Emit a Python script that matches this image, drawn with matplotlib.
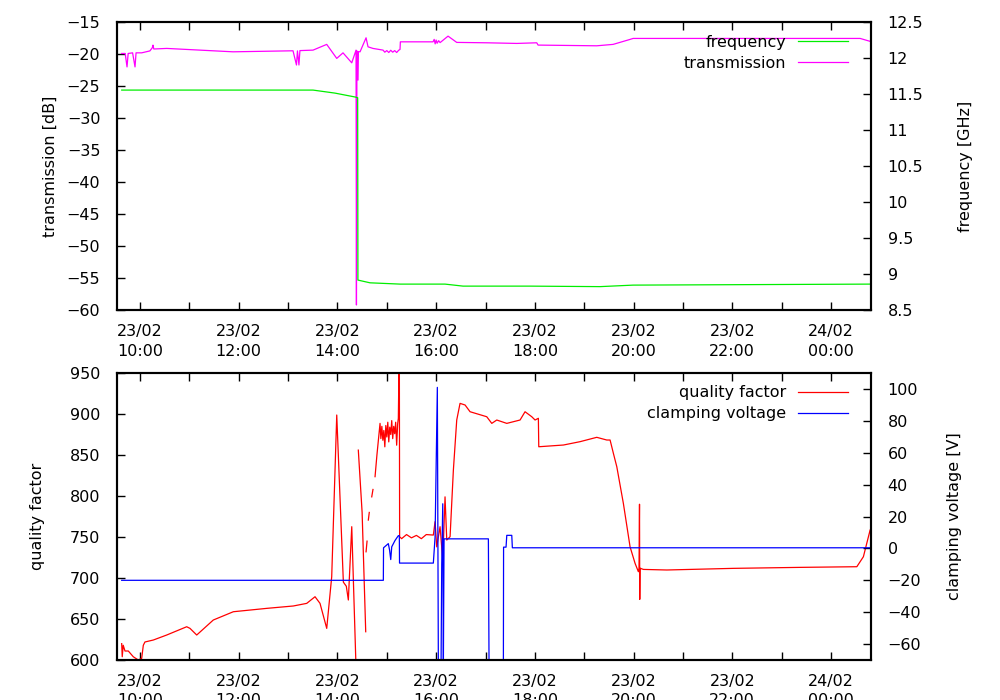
import numpy as np
import matplotlib
matplotlib.use("Agg")
import matplotlib.pyplot as plt

plt.rcParams['font.family'] = ['DejaVu Sans']
plt.rcParams['font.size'] = 11.5

# ---------------- data (time in hours since 23/02 00:00) ----------------
freq_t = [9.63, 13.505, 13.95, 14.357, 14.41, 14.415, 14.66, 15.27, 16.18, 16.545, 17.9, 19.32, 19.99, 24.79]
freq_v = [11.556, 11.556, 11.514, 11.46, 11.45, 8.917, 8.879, 8.861, 8.861, 8.833, 8.833, 8.826, 8.847, 8.861]

trans_t = [9.629, 9.70, 9.737, 9.76, 9.85, 9.899, 9.92, 10.034, 10.20, 10.25, 10.263, 10.28,
           10.541, 11.884, 13.10, 13.17, 13.19, 13.22, 13.24, 13.506, 13.783, 13.986, 14.113,
           14.29, 14.377, 14.385, 14.395, 14.417, 14.425, 14.458, 14.58, 14.62, 14.72, 14.924,
           14.96, 15.0, 15.04, 15.08, 15.12, 15.16, 15.20, 15.24, 15.268, 15.275, 15.937,
           15.96, 15.98, 16.0, 16.02, 16.05, 16.08, 16.241, 16.417, 17.025, 17.633, 18.038,
           18.065, 19.254, 19.585, 19.929, 19.99, 24.59, 24.79]
trans_v = [-19.9, -19.9, -22.0, -19.9, -19.8, -22.0, -19.8, -19.8, -19.5, -19.0, -18.6, -19.2,
           -19.11, -19.64, -19.48, -21.7, -19.5, -21.7, -19.45, -19.375, -18.48, -20.67, -19.8,
           -21.36, -19.375, -59.2, -19.5, -24.06, -19.6, -19.64, -17.45, -18.86, -19.11, -19.375,
           -19.7, -19.45, -19.75, -19.4, -19.7, -19.45, -19.75, -19.4, -19.27, -18.08, -18.08,
           -17.7, -18.4, -17.8, -18.3, -17.9, -18.2, -17.19, -18.17, -18.23, -18.33, -18.23,
           -18.59, -18.70, -18.48, -17.70, -17.55, -17.55, -18.0]

qual_t = [9.629, 9.64, 9.66, 9.696, 9.763, 9.864, 9.966, 10.034, 10.067, 10.10, 10.27, 10.541,
          10.946, 11.013, 11.149, 11.485, 11.891, 12.567, 13.106, 13.378, 13.546, 13.647,
          13.783, 13.884, 13.986, 14.12, 14.18, 14.221, 14.29, 14.377, np.nan,
          14.423, 14.50, 14.573, np.nan, 14.58, 14.60, np.nan, 14.626, 14.645, np.nan,
          14.695, 14.72, np.nan, 14.762, 14.80, 14.863, 14.88, 14.90, 14.92, 14.94, 14.96,
          14.98, 15.00, 15.02, 15.04, 15.06, 15.08, 15.10, 15.12, 15.14, 15.16, 15.18, 15.20,
          15.22, 15.234, 15.254, 15.26, 15.3, 15.4, 15.5, 15.6, 15.7, 15.8, 15.943, 15.978,
          16.012, 16.079, 16.134, 16.18, 16.215, 16.282, 16.349, 16.417, 16.484, 16.586,
          16.687, 17.025, 17.127, 17.228, 17.431, 17.7, 17.801, 17.937, 18.004, 18.071,
          18.079, 18.578, 18.916, 19.254, 19.457, 19.524, 19.591, 19.66, 19.793, 19.929,
          20.03, 20.097, 20.11, 20.12, 20.125, 20.13, 20.199, 20.673, 22.023, 23.374,
          24.523, 24.656, 24.792]
qual_v = [620, 604, 618, 611, 611, 604, 600, 602, 618, 622, 624.4, 630.5,
          640.6, 638.6, 630.5, 648.8, 658.9, 663, 665.9, 669.1, 677.2, 669.1,
          638.6, 701.6, 898.8, 695, 690, 673.2, 762.6, 590, np.nan,
          856, 780, 634.5, np.nan, 732, 745, np.nan, 770.7, 780, np.nan,
          799, 808, np.nan, 823.6, 850, 888.6, 870, 885, 868, 880, 860,
          886, 872, 890, 866, 884, 875, 892, 870, 885, 876, 890, 862,
          888, 894.8, 990, 750.4, 748, 753, 749, 752, 748, 753, 752.4, 768.7,
          738, 762.6, 721.9, 799, 746.3, 750.4, 831.7, 892.7, 913, 911,
          902.8, 896.7, 888.6, 892.7, 888.6, 892.7, 902.8, 896.7, 892.7, 894.8,
          860.1, 862.2, 866.3, 871.6, 868.3, 868.3, 852, 835.7, 791, 738,
          717.9, 707.7, 712, 790, 674, 712, 710.5, 709.8, 711.8, 713,
          713.8, 726, 758.5]

clamp_t = [9.629, 14.93, 14.934, 15.031, 15.056, 15.08, 15.10, 15.167, 15.234, 15.254, 15.258,
           15.943, 15.978, 16.024, 16.045, 16.099, 16.113, 16.134, 16.146, 16.16, 17.058,
           17.072, 17.362, 17.366, 17.416, 17.431, 17.532, 17.544, 24.792]
clamp_v = [-20, -20, 0.4, 3, -1, -7, 1, 5, 8, 8, -9.2,
           -9.2, 7, 101, -75, -75, -10, 28, -75, 6, 6,
           -75, -75, 0.8, 0.8, 8.2, 8.2, 0.4, 0.4]

xtick_pos = [10, 12, 14, 16, 18, 20, 22, 24]
xtick_labels = ["23/02\n10:00", "23/02\n12:00", "23/02\n14:00", "23/02\n16:00",
                "23/02\n18:00", "23/02\n20:00", "23/02\n22:00", "24/02\n00:00"]
xminor_pos = [11, 13, 15, 17, 19, 21, 23]
x_range = (9.534, 24.81)

trans_ticks = [-60, -55, -50, -45, -40, -35, -30, -25, -20, -15]
freq_ticks = [8.5, 9, 9.5, 10, 10.5, 11, 11.5, 12, 12.5]
freq_tick_labels = ["8.5", "9", "9.5", "10", "10.5", "11", "11.5", "12", "12.5"]
qual_ticks = [600, 650, 700, 750, 800, 850, 900, 950]
clamp_ticks = [-60, -40, -20, 0, 20, 40, 60, 80, 100]

GREEN = "#00ee00"
MAGENTA = "#ff00ff"
RED = "#ff0000"
BLUE = "#0000ff"
LW = 0.9

fig = plt.figure(figsize=(10, 7), dpi=100)
ax1 = fig.add_axes([0.117, 0.557, 0.754, 0.4114])
ax1r = ax1.twinx()
ax2 = fig.add_axes([0.117, 0.0571, 0.754, 0.41])
ax2r = ax2.twinx()

legend_kw = dict(loc="upper right", bbox_to_anchor=(0.9695, 0.957), frameon=False,
                 markerfirst=False, borderpad=0, borderaxespad=0, labelspacing=0.38,
                 handlelength=3.15, handletextpad=0.72, fontsize=11.5)

# top panel
l_trans, = ax1.plot(trans_t, trans_v, color=MAGENTA, lw=LW, label="transmission")
l_freq, = ax1r.plot(freq_t, freq_v, color=GREEN, lw=LW, label="frequency")
ax1.set_ylim(-60, -15)
ax1r.set_ylim(8.5, 12.5)
ax1.set_yticks(trans_ticks)
ax1r.set_yticks(freq_ticks)
ax1r.set_yticklabels(freq_tick_labels)
ax1.set_ylabel("transmission [dB]", va="center")
ax1r.set_ylabel("frequency [GHz]", va="center")
ax1.yaxis.set_label_coords(-0.0885, 0.5)
ax1r.yaxis.set_label_coords(1.1255, 0.5)
ax1r.legend(handles=[l_freq, l_trans], **legend_kw)

# bottom panel
l_qual, = ax2.plot(qual_t, qual_v, color=RED, lw=LW, label="quality factor")
l_clamp, = ax2r.plot(clamp_t, clamp_v, color=BLUE, lw=LW, label="clamping voltage")
ax2.set_ylim(600, 950)
ax2r.set_ylim(-70, 110)
ax2.set_yticks(qual_ticks)
ax2r.set_yticks(clamp_ticks)
ax2.set_ylabel("quality factor", va="center")
ax2r.set_ylabel("clamping voltage [V]", va="center")
ax2.yaxis.set_label_coords(-0.1048, 0.5)
ax2r.yaxis.set_label_coords(1.1114, 0.5)
ax2r.legend(handles=[l_qual, l_clamp], **legend_kw)

for ax, axr in [(ax1, ax1r), (ax2, ax2r)]:
    ax.set_xlim(*x_range)
    ax.set_xticks(xtick_pos)
    ax.set_xticklabels(xtick_labels)
    ax.set_xticks(xminor_pos, minor=True)
    ax.tick_params(axis="x", which="both", direction="in", top=True, bottom=True,
                   length=6, width=1, pad=10)
    ax.tick_params(axis="y", direction="in", left=True, right=False, length=6, width=1, pad=12)
    axr.tick_params(axis="y", direction="in", right=True, left=False, length=6, width=1, pad=12)
    for a in (ax, axr):
        for s in a.spines.values():
            s.set_linewidth(1.5)
    for lab in ax.get_xticklabels():
        lab.set_linespacing(1.38)

fig.savefig("out.png", dpi=100)
